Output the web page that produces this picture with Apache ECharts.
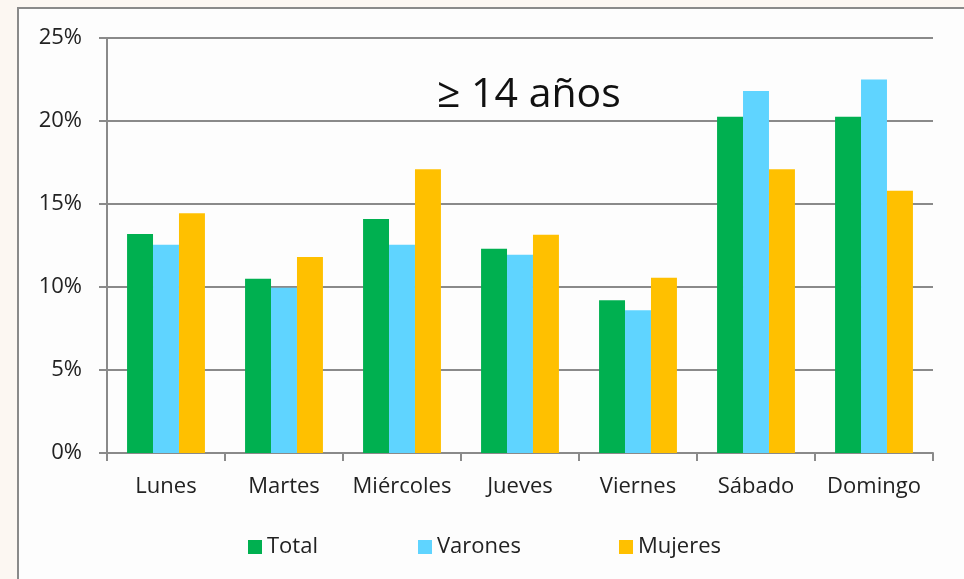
<!DOCTYPE html>
<html>
<head>
<meta charset="utf-8">
<script src="https://cdn.jsdelivr.net/npm/echarts@6/dist/echarts.min.js"></script>
<style>
  html, body { margin: 0; padding: 0; background: #fcf7f2; }
  #chart { width: 964px; height: 579px; }
</style>
</head>
<body>
<div id="chart"></div>
<script>
const days = ["Lunes", "Martes", "Miércoles", "Jueves", "Viernes", "Sábado", "Domingo"];
const total = [13.2, 10.5, 14.1, 12.3, 9.2, 20.25, 20.25];
const varones = [12.55, 9.95, 12.55, 11.95, 8.6, 21.8, 22.5];
const mujeres = [14.45, 11.8, 17.1, 13.15, 10.55, 17.1, 15.8];
const yTicks = [0, 5, 10, 15, 20, 25];

const font = "Open Sans";
const chart = echarts.init(document.getElementById("chart"));

function legendAt(name, left) {
  return {
    data: [name],
    left: left,
    top: 531,
    itemWidth: 14,
    itemHeight: 14,
    itemGap: 8,
    icon: "rect",
    textStyle: { fontFamily: font, fontSize: 22, color: "#222" }
  };
}

const option = {
  backgroundColor: "#fcf7f2",
  animation: false,
  graphic: [
    {
      type: "rect",
      z: -10,
      shape: { x: 18, y: 8, width: 1000, height: 620 },
      style: { fill: "#fdfdfd", stroke: "#8a8a8a", lineWidth: 2 }
    },
    {
      type: "text",
      x: 437,
      y: 95,
      style: { text: "≥ 14 años", font: "41px 'Open Sans'", fill: "#111", verticalAlign: "middle" }
    }
  ],
  grid: { left: 107, right: 31, top: 38, bottom: 126 },
  legend: [
    legendAt("Total", 243),
    legendAt("Varones", 413),
    legendAt("Mujeres", 614)
  ],
  xAxis: {
    type: "category",
    data: days,
    axisLine: { lineStyle: { color: "#8a8a8a", width: 2 } },
    axisTick: { show: true, interval: 0, length: 8, lineStyle: { color: "#8a8a8a", width: 2 } },
    axisLabel: { interval: 0, hideOverlap: false, fontFamily: font, fontSize: 22, color: "#222", margin: 23 }
  },
  yAxis: {
    type: "value",
    min: 0,
    max: 25,
    interval: 5,
    axisLine: { show: true, lineStyle: { color: "#8a8a8a", width: 2 } },
    axisTick: { show: true, length: 8, lineStyle: { color: "#8a8a8a", width: 2 } },
    splitLine: { lineStyle: { color: "#8a8a8a", width: 2 } },
    axisLabel: {
      fontFamily: font, fontSize: 22, color: "#222", margin: 25,
      formatter: v => (yTicks.includes(v) ? v + "%" : "")
    }
  },
  series: [
    { name: "Total", type: "bar", data: total, itemStyle: { color: "#00b050" }, barGap: "0%", barCategoryGap: "34%" },
    { name: "Varones", type: "bar", data: varones, itemStyle: { color: "#5fd4ff" } },
    { name: "Mujeres", type: "bar", data: mujeres, itemStyle: { color: "#ffc000" } }
  ]
};

chart.setOption(option);
</script>
</body>
</html>
